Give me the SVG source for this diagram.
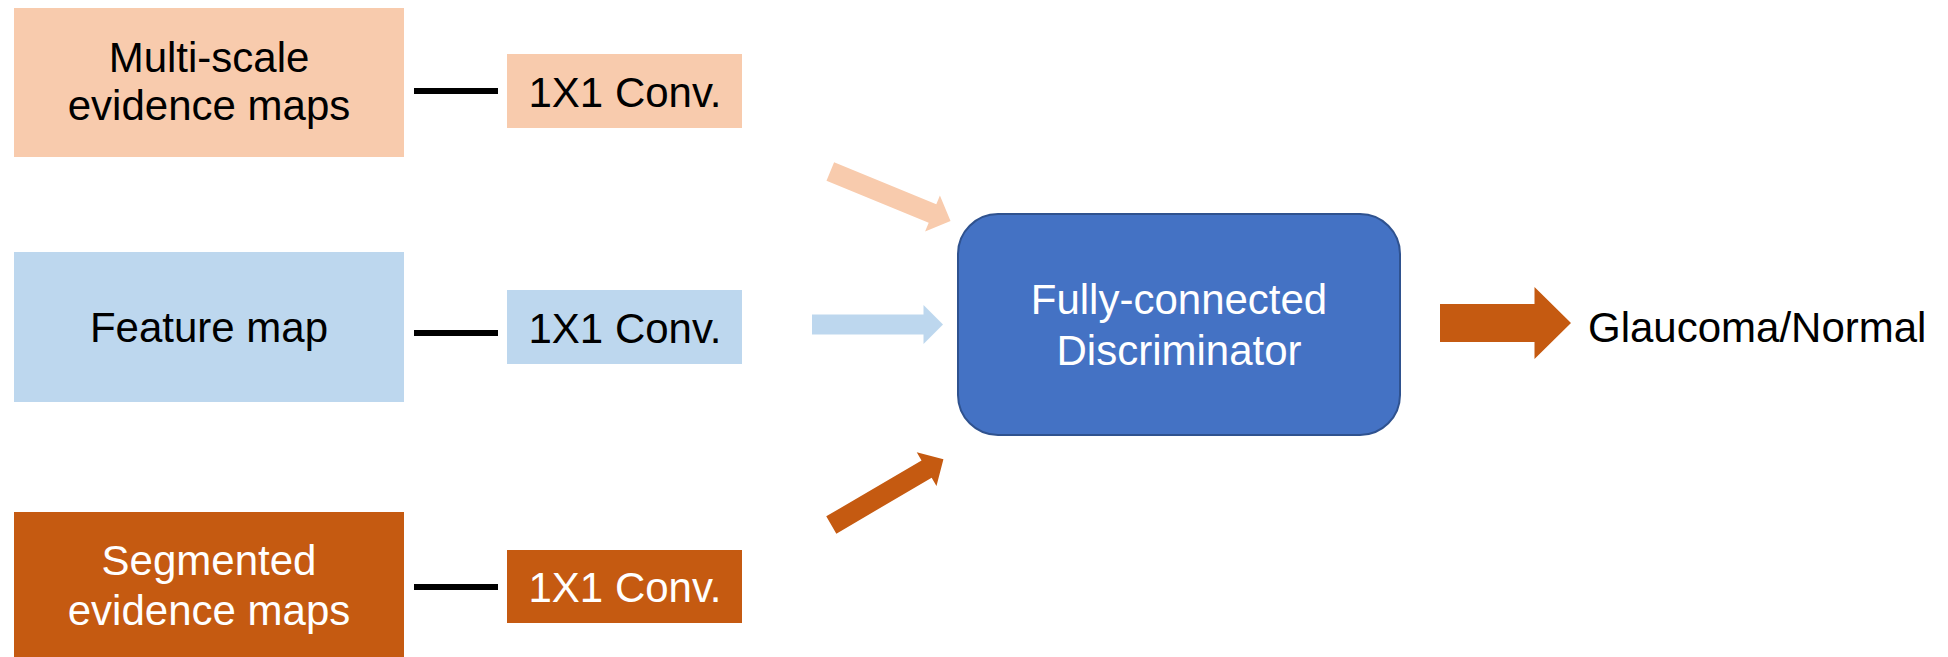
<svg xmlns="http://www.w3.org/2000/svg" width="1948" height="657" viewBox="0 0 1948 657">
  <style>
    text { font-family: "Liberation Sans", Arial, sans-serif; font-size: 42px; text-anchor: middle; }
    .dark { fill: #000000; }
    .light { fill: #FFFFFF; }
    .orange { fill: #F8CBAD; }
    .blue { fill: #BDD7EE; }
    .brown { fill: #C55A11; }
    .link { stroke: #000000; stroke-width: 6; fill: none; }
  </style>
  <defs>
    <polygon id="blk" points="0,-10 110.5,-10 110.5,-19.5 130,0 110.5,19.5 110.5,10 0,10"/>
  </defs>
  <rect width="1948" height="657" fill="#FFFFFF"/>

  <g id="connectors">
    <line class="link" x1="414" y1="91" x2="498" y2="91"/>
    <line class="link" x1="414" y1="333" x2="498" y2="333"/>
    <line class="link" x1="414" y1="587" x2="498" y2="587"/>
    <use href="#blk" class="orange" transform="translate(830.3,171.5) rotate(22.35)"/>
    <polygon class="blue" points="812,314.5 923.5,314.5 923.5,305 943,324.5 923.5,344 923.5,334.5 812,334.5"/>
    <use href="#blk" class="brown" transform="translate(831.3,525) rotate(-30.4)"/>
    <polygon class="brown" points="1440,304 1534.5,304 1534.5,287 1571,323 1534.5,359 1534.5,342 1440,342"/>
  </g>

  <g id="multiscale">
    <rect class="orange" x="14" y="8" width="390" height="149"/>
    <text class="dark" x="209" y="72">Multi-scale</text>
    <text class="dark" x="209" y="120">evidence maps</text>
  </g>
  <g id="conv1">
    <rect class="orange" x="507" y="54" width="235" height="74"/>
    <text class="dark" x="625" y="107">1X1 Conv.</text>
  </g>

  <g id="featuremap">
    <rect class="blue" x="14" y="252" width="390" height="150"/>
    <text class="dark" x="209" y="342">Feature map</text>
  </g>
  <g id="conv2">
    <rect class="blue" x="507" y="290" width="235" height="74"/>
    <text class="dark" x="625" y="343">1X1 Conv.</text>
  </g>

  <g id="segmented">
    <rect class="brown" x="14" y="512" width="390" height="149"/>
    <text class="light" x="209" y="575">Segmented</text>
    <text class="light" x="209" y="625">evidence maps</text>
  </g>
  <g id="conv3">
    <rect class="brown" x="507" y="550" width="235" height="73"/>
    <text class="light" x="625" y="602">1X1 Conv.</text>
  </g>

  <g id="discriminator">
    <rect x="958" y="214" width="442" height="221" rx="40" ry="40" fill="#4472C4" stroke="#2F528F" stroke-width="2"/>
    <text class="light" x="1179" y="314">Fully-connected</text>
    <text class="light" x="1179" y="365">Discriminator</text>
  </g>

  <g id="output">
    <text class="dark" x="1588" y="342" style="text-anchor:start">Glaucoma/Normal</text>
  </g>
</svg>
